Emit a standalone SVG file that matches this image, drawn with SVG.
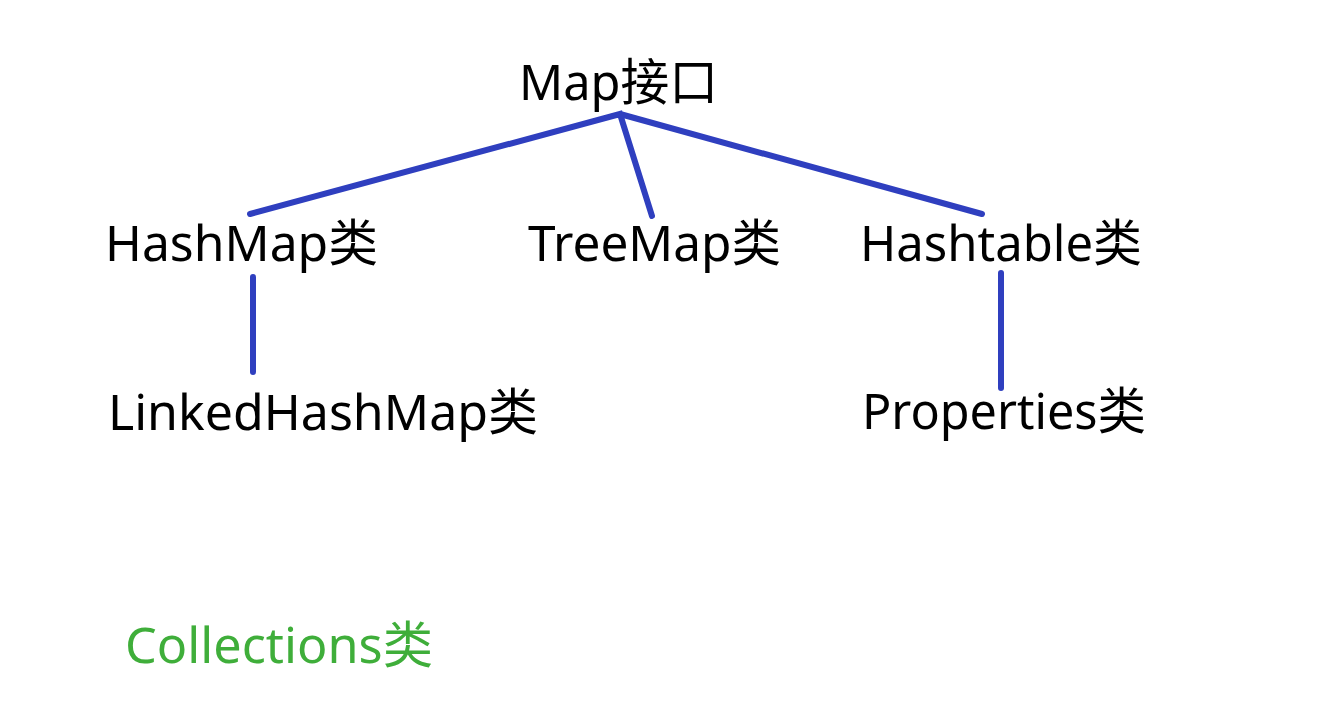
<svg xmlns="http://www.w3.org/2000/svg" width="1318" height="728" viewBox="0 0 1318 728">
<style>
.t{font-family:"Noto Sans","Noto Sans CJK SC",sans-serif;font-size:50px;fill:#000}
.g{fill:#3fae3a}
.c{stroke:#2f3fbf;stroke-width:6;stroke-linecap:round;fill:none}
</style>
<rect width="1318" height="728" fill="#fff"/>
<g id="connectors">
<path class="c" d="M250,214 L620,114 L652,216 M620,114 L982,214"/>
<line class="c" x1="253" y1="277" x2="253" y2="372"/>
<line class="c" x1="1001" y1="273" x2="1001" y2="388"/>
</g>
<g id="map"><text class="t" x="519" y="100" textLength="199" lengthAdjust="spacingAndGlyphs">Map接口</text></g>
<g id="hashmap"><text class="t" x="105" y="261" textLength="273" lengthAdjust="spacingAndGlyphs">HashMap类</text></g>
<g id="treemap"><text class="t" x="528" y="261" textLength="253" lengthAdjust="spacingAndGlyphs">TreeMap类</text></g>
<g id="hashtable"><text class="t" x="860" y="261" textLength="282" lengthAdjust="spacingAndGlyphs">Hashtable类</text></g>
<g id="linkedhashmap"><text class="t" x="108" y="430" textLength="430" lengthAdjust="spacingAndGlyphs">LinkedHashMap类</text></g>
<g id="properties"><text class="t" x="862" y="429" textLength="284" lengthAdjust="spacingAndGlyphs">Properties类</text></g>
<g id="collections"><text class="t g" x="125" y="663" textLength="308" lengthAdjust="spacingAndGlyphs">Collections类</text></g>
</svg>
